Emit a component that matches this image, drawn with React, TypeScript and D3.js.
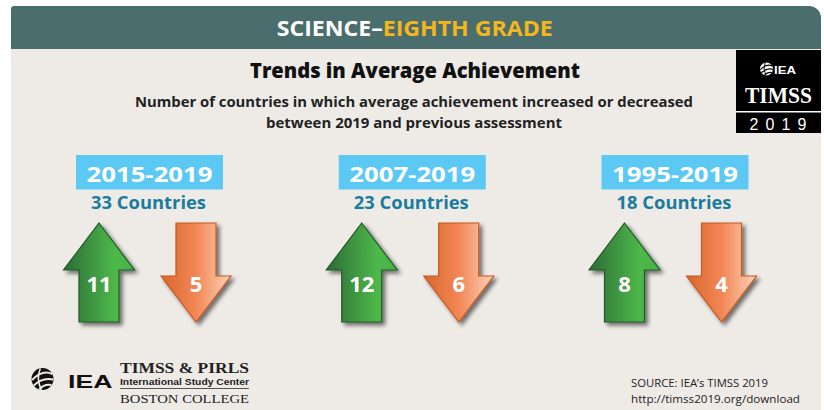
import React from "react";
import * as d3 from "d3";

// ---- data ----
const periods = ["2015-2019", "2007-2019", "1995-2019"];
const countries = [33, 23, 18];
const increased = [11, 12, 8];
const decreased = [5, 6, 4];

const headerWhite = "SCIENCE–";
const headerGold = "EIGHTH GRADE";
const title = "Trends in Average Achievement";
const subtitle1 = "Number of countries in which average achievement increased or decreased";
const subtitle2 = "between 2019 and previous assessment";
const source1 = "SOURCE: IEA’s TIMSS 2019";
const source2 = "http://timss2019.org/download";

const W = 824;
const H = 410;
const SANS = "'Open Sans', 'DejaVu Sans', sans-serif";
const ARIAL = "'Liberation Sans', Arial, sans-serif";
const SERIF = "'Liberation Serif', 'DejaVu Serif', serif";

const x = d3.scalePoint<string>().domain(periods).range([149.5, 675]);

function upArrow(cx: number) {
  const p = d3.path();
  const tip = 223, head = 270, bottom = 322, hh = 35.5, sh = 20;
  p.moveTo(cx, tip);
  p.lineTo(cx + hh, head);
  p.lineTo(cx + sh, head);
  p.lineTo(cx + sh, bottom);
  p.lineTo(cx - sh, bottom);
  p.lineTo(cx - sh, head);
  p.lineTo(cx - hh, head);
  p.closePath();
  return p.toString();
}

function downArrow(cx: number) {
  const p = d3.path();
  const top = 223, head = 276, tip = 322, hh = 35, sh = 20;
  p.moveTo(cx - sh, top);
  p.lineTo(cx + sh, top);
  p.lineTo(cx + sh, head);
  p.lineTo(cx + hh, head);
  p.lineTo(cx, tip);
  p.lineTo(cx - hh, head);
  p.lineTo(cx - sh, head);
  p.closePath();
  return p.toString();
}

function Globe({ cx, cy, r, fill, line }: { cx: number; cy: number; r: number; fill: string; line: string }) {
  const sw = r * 0.18;
  return (
    <g>
      <circle cx={cx} cy={cy} r={r} fill={fill} />
      <path d={`M${cx - r * 0.95},${cy + r * 0.1} Q${cx},${cy - r * 0.9} ${cx + r * 0.9},${cy - r * 0.45}`} stroke={line} strokeWidth={sw} fill="none" />
      <path d={`M${cx - r * 0.8},${cy + r * 0.6} Q${cx},${cy - r * 0.2} ${cx + r * 0.98},${cy + r * 0.05}`} stroke={line} strokeWidth={sw} fill="none" />
      <path d={`M${cx - r * 0.3},${cy + r * 0.95} Q${cx + r * 0.2},${cy + r * 0.4} ${cx + r * 0.8},${cy + r * 0.55}`} stroke={line} strokeWidth={sw} fill="none" />
      <path d={`M${cx - r * 0.2},${cy - r * 0.95} Q${cx - r * 0.6},${cy} ${cx - r * 0.1},${cy + r * 0.98}`} stroke={line} strokeWidth={sw * 0.8} fill="none" />
    </g>
  );
}

export default function App() {
  const headerPath = (() => {
    const p = d3.path();
    const l = 11, r = 821, t = 6, b = 49, rl = 3, rr = 12;
    p.moveTo(l, b);
    p.lineTo(l, t + rl);
    p.arcTo(l, t, l + rl, t, rl);
    p.lineTo(r - rr, t);
    p.arcTo(r, t, r, t + rr, rr);
    p.lineTo(r, b);
    p.closePath();
    return p.toString();
  })();

  return (
    <svg width={W} height={H} style={{ position: "absolute", left: 0, top: 0 }} xmlns="http://www.w3.org/2000/svg">
      <defs>
        <linearGradient id="gUp" x1="0" x2="1" y1="0" y2="0">
          <stop offset="0%" stopColor="#2C6B35" />
          <stop offset="72%" stopColor="#4DB84A" />
          <stop offset="100%" stopColor="#4AB047" />
        </linearGradient>
        <linearGradient id="gDown" x1="0" x2="1" y1="0" y2="0">
          <stop offset="0%" stopColor="#D9672C" />
          <stop offset="50%" stopColor="#F28655" />
          <stop offset="100%" stopColor="#FCD3BA" />
        </linearGradient>
        <filter id="shadow" x="-30%" y="-30%" width="160%" height="160%">
          <feGaussianBlur in="SourceAlpha" stdDeviation="2" />
          <feOffset dx="3" dy="3" result="ob" />
          <feComponentTransfer>
            <feFuncA type="linear" slope="0.55" />
          </feComponentTransfer>
          <feMerge>
            <feMergeNode />
            <feMergeNode in="SourceGraphic" />
          </feMerge>
        </filter>
      </defs>

      <rect width={W} height={H} fill="#ffffff" />
      {/* card body */}
      <rect x={11} y={40} width={810} height={H - 40} fill="#EEEBE7" />
      {/* header */}
      <path d={headerPath} fill="#4A6E6E" />
      <text x={276.7} y={36} fontFamily={SANS} fontWeight={700} fontSize={21} textLength={276} lengthAdjust="spacingAndGlyphs">
        <tspan fill="#ffffff">{headerWhite}</tspan>
        <tspan fill="#F3B61B">{headerGold}</tspan>
      </text>

      {/* title */}
      <text x={415} y={78.3} textAnchor="middle" fontFamily={SANS} fontWeight={800} fontSize={21} fill="#111" textLength={330} lengthAdjust="spacingAndGlyphs">
        {title}
      </text>
      <text x={414} y={106.7} textAnchor="middle" fontFamily={SANS} fontWeight={700} fontSize={15} fill="#222" textLength={558} lengthAdjust="spacingAndGlyphs">
        {subtitle1}
      </text>
      <text x={414} y={128.3} textAnchor="middle" fontFamily={SANS} fontWeight={700} fontSize={15} fill="#222" textLength={296} lengthAdjust="spacingAndGlyphs">
        {subtitle2}
      </text>

      {/* TIMSS logo */}
      <rect x={736} y={50} width={85} height={83} fill="#000" />
      <Globe cx={766.5} cy={69} r={6.5} fill="#ffffff" line="#000" />
      <text x={774} y={73.5} fontFamily={ARIAL} fontWeight={700} fontSize={11.5} fill="#fff" textLength={22} lengthAdjust="spacingAndGlyphs">IEA</text>
      <text x={778.5} y={103} textAnchor="middle" fontFamily={SERIF} fontWeight={700} fontSize={23} fill="#fff" textLength={67} lengthAdjust="spacingAndGlyphs">TIMSS</text>
      <line x1={736} x2={821} y1={111.7} y2={111.7} stroke="#fff" strokeWidth={1.5} />
      <text x={778} y={129.5} textAnchor="middle" fontFamily={ARIAL} fontSize={16} fill="#fff" textLength={57} lengthAdjust="spacing">2019</text>

      {/* period groups */}
      {periods.map((p, i) => {
        const cx = x(p) as number;
        const upX = cx - 50.5;
        const downX = cx + 46.5;
        return (
          <g key={p}>
            <rect x={cx - 73.5} y={155} width={147} height={34.5} fill="#5CC9F5" />
            <text x={cx} y={181.7} textAnchor="middle" fontFamily={SANS} fontWeight={700} fontSize={22} fill="#fff" textLength={126} lengthAdjust="spacingAndGlyphs">
              {p}
            </text>
            <text x={cx - 1} y={209.3} textAnchor="middle" fontFamily={SANS} fontWeight={700} fontSize={17} fill="#1A7C9C" textLength={115} lengthAdjust="spacingAndGlyphs">
              {`${countries[i]} Countries`}
            </text>
            <path d={upArrow(upX)} fill="url(#gUp)" stroke="#1F5A28" strokeWidth={1.2} filter="url(#shadow)" />
            <path d={downArrow(downX)} fill="url(#gDown)" stroke="#C45A22" strokeWidth={1.2} filter="url(#shadow)" />
            <text x={upX} y={292} textAnchor="middle" fontFamily={SANS} fontWeight={700} fontSize={22} fill="#fff">
              {increased[i]}
            </text>
            <text x={downX} y={292} textAnchor="middle" fontFamily={SANS} fontWeight={700} fontSize={22} fill="#fff">
              {decreased[i]}
            </text>
          </g>
        );
      })}

      {/* footer logo */}
      <Globe cx={42.5} cy={379} r={11} fill="#111" line="#EEEBE7" />
      <text x={68} y={388.3} fontFamily={ARIAL} fontWeight={700} fontSize={18.5} fill="#111" textLength={44.5} lengthAdjust="spacingAndGlyphs">IEA</text>
      <text x={120} y={372.8} fontFamily={SERIF} fontWeight={700} fontSize={15} fill="#222" textLength={129} lengthAdjust="spacingAndGlyphs">TIMSS &amp; PIRLS</text>
      <text x={120} y={385} fontFamily={ARIAL} fontWeight={700} fontSize={9} fill="#222" textLength={129} lengthAdjust="spacingAndGlyphs">International Study Center</text>
      <line x1={120} x2={249} y1={388.5} y2={388.5} stroke="#555" strokeWidth={1} />
      <text x={120} y={403.3} fontFamily={SERIF} fontSize={13} fill="#222" textLength={129} lengthAdjust="spacingAndGlyphs">BOSTON COLLEGE</text>

      {/* source */}
      <text x={631} y={386.7} fontFamily={SANS} fontSize={11.5} fill="#222" textLength={137} lengthAdjust="spacingAndGlyphs">{source1}</text>
      <text x={631} y={402.7} fontFamily={SANS} fontSize={11.5} fill="#222" textLength={169} lengthAdjust="spacingAndGlyphs">{source2}</text>
    </svg>
  );
}
